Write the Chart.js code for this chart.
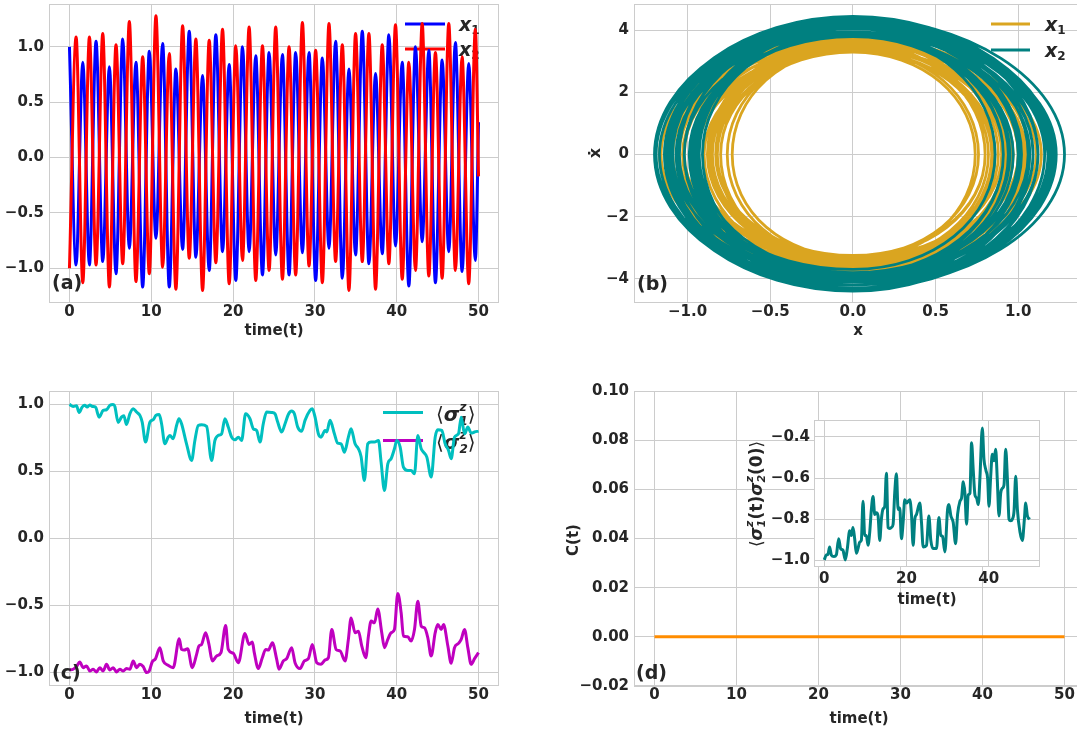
<!DOCTYPE html>
<html><head><meta charset="utf-8">
<script src="https://cdn.jsdelivr.net/npm/chart.js@4.4.1/dist/chart.umd.min.js"></script>
<style>
html,body{margin:0;padding:0;background:#fff;width:1077px;height:731px;overflow:hidden;position:relative}
canvas{position:absolute}
</style></head><body>
<canvas id="ca" width="512" height="345" style="left:0;top:0"></canvas>
<canvas id="cb" width="536" height="345" style="left:560px;top:0"></canvas>
<canvas id="cc" width="512" height="357" style="left:0;top:375px"></canvas>
<canvas id="cd" width="536" height="357" style="left:560px;top:375px"></canvas>
<canvas id="ci" width="310" height="207" style="left:740px;top:405px"></canvas>
<script>
// ================= DATA =================
// (a) times of the successive extrema (and final point) of x1, x2
const tExt = [0,0.81,1.63,2.44,3.25,4.07,4.88,5.69,6.51,7.32,8.13,8.95,9.76,10.57,11.39,12.20,13.01,13.83,14.64,15.45,16.27,17.08,17.89,18.71,19.52,20.33,21.15,21.96,22.77,23.59,24.40,25.21,26.03,26.84,27.65,28.47,29.28,30.09,30.91,31.72,32.53,33.35,34.16,34.97,35.79,36.60,37.41,38.23,39.04,39.85,40.67,41.48,42.29,43.11,43.92,44.73,45.55,46.36,47.17,47.99,48.80,49.61,50.00];
const x1Ext = [1.00,-0.97,0.86,-0.97,1.05,-0.94,0.82,-1.05,1.07,-0.82,0.86,-1.17,0.96,-0.73,1.03,-1.17,0.80,-0.83,1.14,-0.90,0.74,-1.02,1.11,-0.85,0.84,-1.11,1.00,-0.85,0.92,-1.06,0.95,-0.88,0.93,-1.06,0.95,-0.86,0.95,-1.11,0.90,-0.82,1.05,-1.09,0.80,-0.88,1.14,-0.96,0.76,-0.87,1.11,-0.80,0.86,-1.16,1.00,-0.76,0.97,-1.13,0.88,-0.85,1.04,-1.03,0.85,-0.93,0.32];
const x2Ext = [-1.00,1.09,-1.13,1.09,-0.97,1.12,-1.17,1.02,-0.96,1.23,-1.12,0.91,-1.05,1.28,-0.99,0.94,-1.19,1.19,-0.91,1.07,-1.20,1.06,-0.95,1.16,-1.14,1.01,-0.93,1.18,-1.11,1.01,-1.02,1.18,-1.10,1.00,-1.06,1.22,-0.98,0.97,-1.13,1.21,-0.94,1.02,-1.20,1.12,-0.94,1.12,-1.19,1.02,-0.96,1.20,-1.10,0.86,-1.02,1.21,-1.07,0.95,-1.09,1.21,-1.02,0.91,-1.14,1.16,-0.17];
// (b) velocity at each zero crossing between extrema (last = final point)
const x1Vel = [-3.55,3.45,-3.45,3.6,-3.6,3.35,-3.5,3.75,-3.55,3.3,-3.65,3.8,-3.3,3.4,-3.8,3.6,-3.25,3.6,-3.7,3.3,-3.4,3.8,-3.6,3.35,-3.55,3.75,-3.5,3.4,-3.6,3.7,-3.5,3.45,-3.65,3.7,-3.45,3.45,-3.7,3.65,-3.35,3.55,-3.8,3.55,-3.3,3.7,-3.75,3.4,-3.28,3.65,-3.55,3.3,-3.6,3.8,-3.4,3.4,-3.7,3.65,-3.4,3.55,-3.7,3.5,-3.45,3.3];
const x2Vel = [4.05,-4.2,4.2,-4.0,4.05,-4.3,4.15,-3.9,4.2,-4.35,3.95,-3.85,4.4,-4.3,3.8,-4.1,4.45,-4.05,3.95,-4.35,4.3,-3.95,4.1,-4.35,4.15,-3.8,4.1,-4.35,4.1,-3.9,4.25,-4.3,4.05,-3.95,4.35,-4.2,3.8,-4.05,4.4,-4.1,3.85,-4.2,4.4,-4.0,4.05,-4.4,4.2,-3.85,4.15,-4.35,3.9,-3.7,4.2,-4.3,3.95,-3.95,4.3,-4.2,3.8,-3.95,4.35,-4.3];
// (c) <sigma_1^z>
const s1T = [0,0.45,0.86,1.18,1.55,1.88,2.16,2.49,2.81,3.18,3.63,4.12,4.53,4.93,5.34,5.55,5.95,6.36,6.65,6.97,7.38,7.79,8.20,8.61,8.89,9.30,9.83,10.24,10.56,10.97,11.26,11.66,12.07,12.28,12.68,13.09,13.38,13.70,14.31,14.93,15.33,15.74,16.15,16.76,17.37,17.78,18.19,18.60,19.00,19.41,19.82,20.23,20.64,21.04,21.53,22.06,22.47,22.88,23.29,23.69,24.10,24.71,25.12,25.45,25.94,26.35,26.75,27.16,27.49,27.90,28.38,28.79,29.40,29.69,30.02,30.42,30.75,31.24,31.44,31.85,32.38,32.79,33.20,33.61,34.09,34.42,34.91,35.32,35.64,36.05,36.46,36.87,37.28,37.77,38.09,38.50,38.91,39.31,39.72,40.01,40.42,40.82,41.35,41.76,42.17,42.58,42.99,43.27,43.68,44.21,44.70,45.02,45.51,45.92,46.33,46.66,47.06,47.55,47.88,48.29,48.69,49.10,49.51,50.00];
const s1V = [1.0,0.985,0.99,0.94,0.98,0.993,0.98,0.995,0.985,0.98,0.905,0.955,0.96,0.993,1.0,0.985,0.866,0.905,0.915,0.85,0.93,0.968,0.943,0.918,0.868,0.719,0.868,0.886,0.918,0.925,0.856,0.706,0.756,0.769,0.744,0.843,0.893,0.856,0.706,0.582,0.731,0.843,0.848,0.836,0.582,0.731,0.769,0.781,0.893,0.831,0.756,0.736,0.756,0.731,0.93,0.893,0.818,0.806,0.719,0.856,0.943,0.94,0.93,0.868,0.794,0.856,0.925,0.95,0.93,0.831,0.8,0.881,0.955,0.968,0.905,0.781,0.756,0.806,0.794,0.881,0.781,0.711,0.706,0.644,0.756,0.818,0.706,0.669,0.612,0.433,0.706,0.719,0.719,0.731,0.570,0.358,0.557,0.595,0.669,0.731,0.682,0.532,0.507,0.507,0.483,0.769,0.669,0.644,0.607,0.458,0.756,0.811,0.806,0.706,0.657,0.595,0.756,0.781,0.905,0.781,0.831,0.786,0.794,0.801];
// (c) <sigma_2^z>
const s2T = [0,0.45,0.86,1.26,1.67,2.08,2.49,2.90,3.30,3.71,4.12,4.53,4.93,5.34,5.75,6.16,6.57,6.97,7.38,7.79,8.20,8.61,9.01,9.42,9.75,10.11,10.52,11.05,11.46,12.07,12.68,13.42,13.70,14.03,14.44,15.01,15.54,15.82,16.15,16.64,17.05,17.46,17.99,18.52,19.09,19.41,20.02,20.64,21.45,21.94,22.35,22.59,23.08,23.57,23.98,24.31,24.80,25.33,25.61,26.14,26.55,27.16,27.57,28.18,28.71,29.20,29.69,30.22,30.75,31.24,31.65,32.06,32.59,33.08,33.69,34.09,34.42,34.91,35.32,35.73,36.22,36.54,36.87,37.28,37.68,38.17,38.50,38.91,39.31,39.72,40.13,40.54,40.82,41.35,41.76,42.17,42.58,42.99,43.39,43.80,44.21,44.70,45.02,45.43,45.72,46.25,46.66,47.06,47.55,47.88,48.29,48.69,49.10,49.51,50.00];
const s2V = [-0.980,-0.975,-0.955,-0.921,-0.963,-0.950,-0.988,-0.975,-0.995,-0.963,-0.988,-0.938,-0.980,-0.963,-0.995,-0.975,-0.988,-0.970,-0.975,-0.913,-0.963,-0.938,-0.955,-1.000,-0.988,-0.921,-0.896,-0.814,-0.913,-0.946,-0.963,-0.748,-0.827,-0.832,-0.822,-0.963,-0.864,-0.802,-0.790,-0.703,-0.790,-0.913,-0.876,-0.851,-0.649,-0.827,-0.856,-0.926,-0.708,-0.790,-0.772,-0.851,-0.970,-0.889,-0.827,-0.832,-0.777,-0.901,-0.975,-0.913,-0.896,-0.814,-0.926,-0.970,-0.913,-0.896,-0.790,-0.926,-0.938,-0.906,-0.889,-0.678,-0.827,-0.839,-0.913,-0.752,-0.592,-0.703,-0.691,-0.802,-0.889,-0.728,-0.616,-0.629,-0.525,-0.703,-0.814,-0.752,-0.703,-0.678,-0.411,-0.554,-0.728,-0.733,-0.765,-0.678,-0.468,-0.653,-0.666,-0.740,-0.876,-0.703,-0.641,-0.678,-0.641,-0.802,-0.931,-0.814,-0.782,-0.752,-0.678,-0.814,-0.938,-0.896,-0.851];
// (d) C(t)
const cT = [0,10,20,30,40,50];
const cV = [0,0,0,0,0,0];
// (d) inset <sigma_1^z(t) sigma_2^z(0)>
const inT = [0,0.49,0.89,1.30,1.71,2.36,2.93,3.50,3.98,4.55,5.12,5.61,6.18,6.59,6.99,7.40,7.80,8.21,8.62,9.02,9.43,9.84,10.24,10.65,11.06,11.46,11.87,12.28,12.68,13.09,13.50,13.90,14.31,14.72,15.12,15.53,15.93,16.34,16.75,17.15,17.56,17.97,18.37,18.78,19.19,19.59,20.00,20.41,20.81,21.22,21.63,22.03,22.44,23.25,23.66,24.07,24.88,25.45,25.93,26.50,27.32,27.89,28.37,28.78,29.35,30.00,30.33,30.81,31.38,31.95,32.44,33.01,33.41,33.82,34.23,34.63,35.04,35.45,35.85,36.26,36.67,37.07,37.48,37.89,38.46,38.86,39.35,39.76,40.08,40.49,40.89,41.30,41.71,42.11,42.52,42.93,43.33,43.74,44.15,44.55,44.96,45.37,45.77,46.18,46.59,47.00,47.64,48.21,48.70,49.02,49.43,50.00];
const inV = [-0.998,-0.974,-0.971,-0.935,-0.974,-0.982,-0.974,-0.895,-0.943,-0.951,-0.998,-0.943,-0.856,-0.879,-0.840,-0.895,-0.966,-0.943,-0.911,-0.903,-0.713,-0.879,-0.879,-0.927,-0.864,-0.753,-0.690,-0.777,-0.769,-0.784,-0.903,-0.800,-0.750,-0.737,-0.576,-0.840,-0.845,-0.840,-0.824,-0.671,-0.579,-0.753,-0.745,-0.895,-0.816,-0.705,-0.721,-0.713,-0.705,-0.777,-0.927,-0.800,-0.777,-0.721,-0.816,-0.935,-0.927,-0.784,-0.903,-0.943,-0.943,-0.792,-0.879,-0.883,-0.959,-0.753,-0.729,-0.784,-0.816,-0.919,-0.777,-0.713,-0.697,-0.618,-0.674,-0.824,-0.682,-0.674,-0.428,-0.563,-0.682,-0.697,-0.729,-0.595,-0.357,-0.508,-0.563,-0.603,-0.737,-0.595,-0.484,-0.516,-0.460,-0.610,-0.784,-0.674,-0.650,-0.634,-0.460,-0.595,-0.800,-0.808,-0.800,-0.761,-0.591,-0.753,-0.864,-0.903,-0.800,-0.721,-0.784,-0.800];
// tick values / labels
const timeTicks = [0,10,20,30,40,50];
const timeLabels = ['0','10','20','30','40','50'];
const unitTicks = [-1,-0.5,0,0.5,1];
const unitLabels = ['\u22121.0','\u22120.5','0.0','0.5','1.0'];
const bYTicks = [-4,-2,0,2,4];
const bYLabels = ['\u22124','\u22122','0','2','4'];
const dYTicks = [-0.02,0,0.02,0.04,0.06,0.08,0.10];
const dYLabels = ['\u22120.02','0.00','0.02','0.04','0.06','0.08','0.10'];
const inXTicks = [0,20,40];
const inXLabels = ['0','20','40'];
const inYTicks = [-1.0,-0.8,-0.6,-0.4];
const inYLabels = ['\u22121.0','\u22120.8','\u22120.6','\u22120.4'];

// ================= STYLE / HELPERS =================
const FONT = 'DejaVu Sans';
const TXT = '#262626';
const GRID = '#cccccc';
const LBL = 'bold 15px ' + FONT;
const LET = 'bold 19px ' + FONT;
Chart.defaults.font.family = FONT;
Chart.defaults.color = TXT;

const pts = (xs, ys) => xs.map((x, i) => ({x: x, y: ys[i]}));
function phasePath(xe, ve) {
  const out = [];
  for (let k = 0; k < xe.length - 1; k++) {
    out.push({x: xe[k], y: 0});
    if (k < ve.length - 1) out.push({x: 0, y: ve[k]});
  }
  out.push({x: xe[xe.length - 1], y: ve[ve.length - 1]});
  return out;
}

function drawRich(ctx, x, y, parts, align, rot) {
  ctx.save();
  ctx.translate(x, y);
  if (rot) ctx.rotate(rot);
  let W = 0;
  const ws = parts.map(p => {
    ctx.font = p.f;
    const w = (p.sup !== undefined)
      ? Math.max(ctx.measureText(p.sup).width, ctx.measureText(p.sub).width)
      : ctx.measureText(p.t).width;
    W += w; return w;
  });
  let cx = align === 'center' ? -W / 2 : 0;
  ctx.fillStyle = TXT; ctx.textBaseline = 'alphabetic'; ctx.textAlign = 'left';
  parts.forEach((p, i) => {
    ctx.font = p.f;
    if (p.sup !== undefined) { ctx.fillText(p.sup, cx, p.supDy); ctx.fillText(p.sub, cx, p.subDy); }
    else ctx.fillText(p.t, cx, p.dy || 0);
    cx += ws[i];
  });
  ctx.restore();
}

const MI = 'bold italic ';
const xLeg = n => [{t: 'x', f: MI + '19px ' + FONT}, {t: n, f: 'bold 12px ' + FONT, dy: 3}];
const sLeg = n => [{t: '\u27E8', f: '20px ' + FONT}, {t: '\u03C3', f: MI + '20px ' + FONT},
  {sup: 'z', sub: n, f: MI + '12px ' + FONT, supDy: -10, subDy: 4}, {t: '\u27E9', f: '20px ' + FONT}];
const insetYLabel = [{t: '\u27E8', f: '17px ' + FONT}, {t: '\u03C3', f: MI + '17px ' + FONT},
  {sup: 'z', sub: '1', f: MI + '11px ' + FONT, supDy: -9, subDy: 3}, {t: '(t)', f: 'bold 17px ' + FONT},
  {t: '\u03C3', f: MI + '17px ' + FONT}, {sup: 'z', sub: '2', f: MI + '11px ' + FONT, supDy: -9, subDy: 3},
  {t: '(0)', f: 'bold 17px ' + FONT}, {t: '\u27E9', f: '17px ' + FONT}];

const DECOR = {
  ca: {ox: 0, oy: 0,
    legend: [{x1: 405, x2: 445, y: 24, color: '#0000ff', tx: 459, ty: 31, parts: xLeg('1')},
             {x1: 405, x2: 445, y: 49, color: '#ff0000', tx: 459, ty: 56, parts: xLeg('2')}],
    texts: [{x: 274, y: 335, align: 'center', parts: [{t: 'time(t)', f: LBL}]},
            {x: 52, y: 289, parts: [{t: '(a)', f: LET}]}]},
  cb: {ox: 560, oy: 0,
    legend: [{x1: 991, x2: 1030, y: 24, color: '#daa520', tx: 1045, ty: 31, parts: xLeg('1')},
             {x1: 991, x2: 1030, y: 50, color: '#008080', tx: 1045, ty: 57, parts: xLeg('2')}],
    texts: [{x: 858, y: 335, align: 'center', parts: [{t: 'x', f: LBL}]},
            {x: 600, y: 153, align: 'center', rot: -Math.PI / 2, parts: [{t: '\u1E8B', f: 'bold 16px ' + FONT}]},
            {x: 637, y: 290, parts: [{t: '(b)', f: LET}]}]},
  cc: {ox: 0, oy: 375,
    legend: [{x1: 383, x2: 423, y: 412.5, color: '#00bfbf', tx: 436, ty: 421, parts: sLeg('1')},
             {x1: 383, x2: 423, y: 440.5, color: '#bf00bf', tx: 436, ty: 449, parts: sLeg('2')}],
    texts: [{x: 274, y: 723, align: 'center', parts: [{t: 'time(t)', f: LBL}]},
            {x: 52, y: 679, parts: [{t: '(c)', f: LET}]}]},
  cd: {ox: 560, oy: 375,
    texts: [{x: 859, y: 723, align: 'center', parts: [{t: 'time(t)', f: LBL}]},
            {x: 578, y: 540, align: 'center', rot: -Math.PI / 2, parts: [{t: 'C(t)', f: LBL}]},
            {x: 636, y: 679, parts: [{t: '(d)', f: LET}]}]},
  ci: {ox: 740, oy: 405, white: true,
    texts: [{x: 927, y: 604, align: 'center', parts: [{t: 'time(t)', f: LBL}]},
            {x: 762, y: 494, align: 'center', rot: -Math.PI / 2, parts: insetYLabel}]}
};

const deco = {
  id: 'deco',
  beforeDraw(chart) {
    const o = DECOR[chart.canvas.id]; if (!o || !o.white) return;
    const a = chart.chartArea, ctx = chart.ctx;
    ctx.save(); ctx.fillStyle = '#fff'; ctx.fillRect(a.left, a.top, a.right - a.left, a.bottom - a.top); ctx.restore();
  },
  beforeDatasetsDraw(chart) {
    const o = DECOR[chart.canvas.id]; if (!o) return;
    const a = chart.chartArea, ctx = chart.ctx;
    ctx.save();
    ctx.strokeStyle = GRID; ctx.lineWidth = 1;
    ctx.strokeRect(a.left + 0.5, a.top + 0.5, a.right - a.left - 1, a.bottom - a.top - 1);
    ctx.translate(-o.ox, -o.oy);
    (o.legend || []).forEach(l => {
      ctx.strokeStyle = l.color; ctx.lineWidth = 3; ctx.lineCap = 'butt';
      ctx.beginPath(); ctx.moveTo(l.x1, l.y); ctx.lineTo(l.x2, l.y); ctx.stroke();
      drawRich(ctx, l.tx, l.ty, l.parts, 'left', 0);
    });
    ctx.restore();
  },
  afterDraw(chart) {
    const o = DECOR[chart.canvas.id]; if (!o) return;
    const ctx = chart.ctx;
    ctx.save(); ctx.translate(-o.ox, -o.oy);
    (o.texts || []).forEach(t => drawRich(ctx, t.x, t.y, t.parts, t.align || 'left', t.rot || 0));
    ctx.restore();
  }
};
Chart.register(deco);

function axis(min, max, vals, labels, size, pad) {
  return {
    type: 'linear', min: min, max: max,
    afterBuildTicks: s => { s.ticks = vals.map(v => ({value: v})); },
    afterFit: s => {
      if (s.isHorizontal()) s.height = size; else s.width = size;
      s.paddingLeft = 0; s.paddingRight = 0; s.paddingTop = 0; s.paddingBottom = 0;
    },
    ticks: {autoSkip: false, maxRotation: 0, minRotation: 0, padding: pad, color: TXT,
      font: {family: FONT, size: 15, weight: 'bold'}, callback: (v, i) => labels[i]},
    grid: {color: GRID, lineWidth: 1, drawTicks: false},
    border: {display: false}
  };
}
function options(xs, ys, pad) {
  return {
    responsive: false, animation: false, devicePixelRatio: 1, events: [],
    layout: {padding: pad, autoPadding: false},
    plugins: {legend: {display: false}, tooltip: {enabled: false}},
    elements: {point: {radius: 0}},
    scales: {x: xs, y: ys}
  };
}
function line(data, color, width, order, extra) {
  return Object.assign({data: data, borderColor: color, backgroundColor: color, borderWidth: width,
    showLine: true, pointRadius: 0, fill: false, order: order, borderJoinStyle: 'round'}, extra);
}
const mono = {cubicInterpolationMode: 'monotone'};
// phase loops: smooth arcs through the axis crossings; the open end arcs (no neighbour
// on one side) are left undrawn so they do not appear as chords across the rings
const loopStyle = n => ({tension: 0.55, segment: {
  borderColor: c => (c.p0DataIndex === 0 || c.p1DataIndex === n - 1) ? 'rgba(0,0,0,0)' : undefined}});
const pathB1 = phasePath(x1Ext, x1Vel);
const pathB2 = phasePath(x2Ext, x2Vel);

// (a)
new Chart(document.getElementById('ca'), {
  type: 'scatter',
  data: {datasets: [line(pts(tExt, x1Ext), '#0000ff', 3, 2, mono), line(pts(tExt, x2Ext), '#ff0000', 3, 1, mono)]},
  options: options(axis(-2.5, 52.5, timeTicks, timeLabels, 42, 0), axis(-1.314, 1.387, unitTicks, unitLabels, 49, 5),
    {top: 4, right: 13, left: 0, bottom: 0})
});
// (b)
new Chart(document.getElementById('cb'), {
  type: 'scatter',
  data: {datasets: [line(pathB1, '#daa520', 2.8, 2, loopStyle(pathB1.length)),
                    line(pathB2, '#008080', 2.8, 1, loopStyle(pathB2.length))]},
  options: options(axis(-1.324, 1.404, unitTicks, unitLabels, 42, 0), axis(-4.78, 4.85, bYTicks, bYLabels, 74, 5),
    {top: 4, right: 11, left: 0, bottom: 0})
});
// (c)
new Chart(document.getElementById('cc'), {
  type: 'scatter',
  data: {datasets: [line(pts(s1T, s1V), '#00bfbf', 3, 2, mono), line(pts(s2T, s2V), '#bf00bf', 3, 1, mono)]},
  options: options(axis(-2.5, 52.5, timeTicks, timeLabels, 46, 0), axis(-1.1, 1.1, unitTicks, unitLabels, 49, 5),
    {top: 16, right: 13, left: 0, bottom: 0})
});
// (d)
new Chart(document.getElementById('cd'), {
  type: 'scatter',
  data: {datasets: [line(pts(cT, cV), '#ff8c00', 3, 1, {})]},
  options: options(axis(-2.5, 52.5, timeTicks, timeLabels, 46, 0), axis(-0.02, 0.10, dYTicks, dYLabels, 74, 5),
    {top: 16, right: 11, left: 0, bottom: 0})
});
// inset
new Chart(document.getElementById('ci'), {
  type: 'scatter',
  data: {datasets: [line(pts(inT, inV), '#008080', 3, 1, mono)]},
  options: options(axis(-2.5, 52.5, inXTicks, inXLabels, 45, 3), axis(-1.0325, -0.3175, inYTicks, inYLabels, 74, 4),
    {top: 15, right: 10, left: 0, bottom: 0})
});
</script></body></html>
